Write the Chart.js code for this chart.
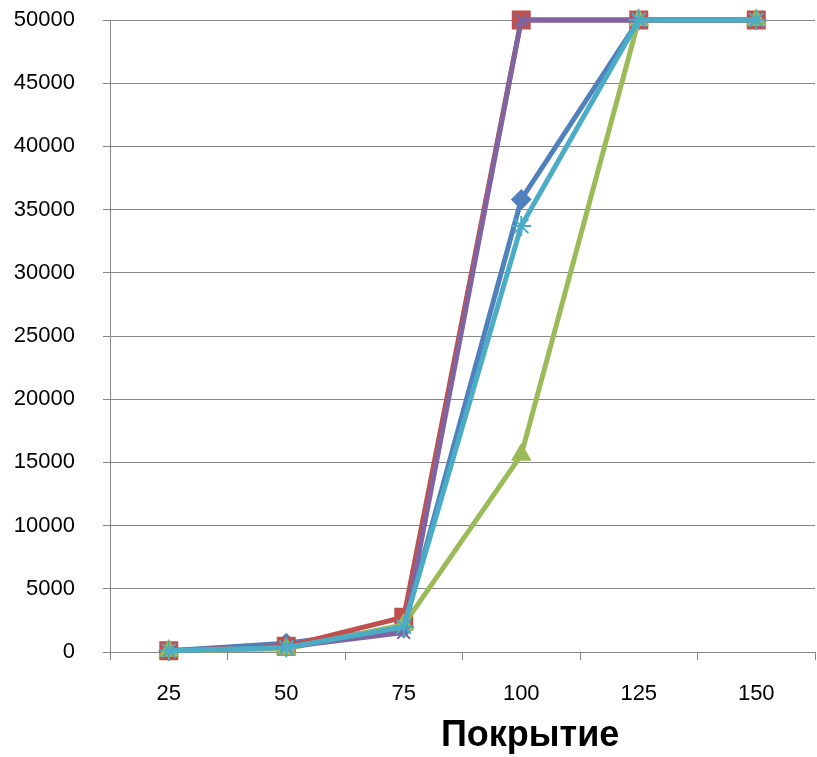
<!DOCTYPE html>
<html>
<head>
<meta charset="utf-8">
<script src="https://cdn.jsdelivr.net/npm/chart.js@4"></script>
<style>
  html, body { margin: 0; padding: 0; background: #fff; }
  #wrap { width: 817px; height: 757px; position: relative; }
</style>
</head>
<body>
<div id="wrap"><canvas id="chart" width="817" height="757"></canvas></div>
<script>
// ---------------------------------------------------------
// DATA
// ---------------------------------------------------------
const categories = ['25', '50', '75', '100', '125', '150'];
const seriesBlue   = [100, 700, 1900, 35800, 50000, 50000];
const seriesRed    = [100, 450, 2750, 50000, 50000, 50000];
const seriesGreen  = [100, 250, 2150, 15600, 50000, 50000];
const seriesPurple = [100, 400, 1550, 50000, 50000, 50000];
const seriesCyan   = [100, 350, 2000, 33700, 50000, 50000];
const axisTitle = 'Покрытие';

const gridColor = '#868686';

// order: lower number is drawn on top (cyan last, like the original)
function makeSet(data, color, style, radius, order) {
    return {
        data: data,
        order: order,
        borderColor: color,
        backgroundColor: color,
        pointBorderColor: color,
        pointBackgroundColor: color,
        pointStyle: style,
        pointRadius: radius,
        pointBorderWidth: 2,
        borderWidth: 5,
        tension: 0,
        clip: false
    };
}

// axis title drawn under the category labels
const axisTitlePlugin = {
    id: 'axisTitle',
    afterDraw(chart) {
        const x = chart.scales.x;
        const ctx = chart.ctx;
        ctx.save();
        ctx.font = 'bold 36px "Liberation Sans", Arial, sans-serif';
        ctx.fillStyle = '#000';
        ctx.textAlign = 'center';
        ctx.textBaseline = 'middle';
        ctx.fillText(axisTitle, x.left + x.width * 0.596, x.top + 84);
        ctx.restore();
    }
};

new Chart(document.getElementById('chart').getContext('2d'), {
    type: 'line',
    data: {
        labels: categories,
        datasets: [
            makeSet(seriesBlue, '#4F81BD', 'rectRot', 9, 5),
            makeSet(seriesRed, '#C0504D', 'rect', 12, 4),
            makeSet(seriesGreen, '#9BBB59', 'triangle', 10, 3),
            makeSet(seriesPurple, '#8064A2', 'crossRot', 9, 2),
            makeSet(seriesCyan, '#4BACC6', 'star', 10, 1)
        ]
    },
    options: {
        responsive: false,
        animation: false,
        layout: { autoPadding: false, padding: { top: 20, right: 2, left: 0, bottom: 0 } },
        plugins: { legend: { display: false }, tooltip: { enabled: false } },
        scales: {
            x: {
                offset: true,
                grid: { offset: true, drawOnChartArea: false, drawTicks: true, tickLength: 8, color: gridColor },
                border: { display: true, color: gridColor, width: 1 },
                ticks: { padding: 21, color: '#000', font: { family: '"Liberation Sans", Arial, sans-serif', size: 22 } },
                afterFit(scale) { scale.height = 105; }
            },
            y: {
                min: 0,
                max: 50000,
                ticks: {
                    stepSize: 5000, padding: 28, color: '#000',
                    font: { family: '"Liberation Sans", Arial, sans-serif', size: 22 },
                    callback: (v) => String(v)
                },
                grid: { color: gridColor, tickLength: 7 },
                border: { display: true, color: gridColor, width: 1 },
                afterFit(scale) {
                    scale.width = 110;
                    scale.paddingTop = 0;
                    scale.paddingBottom = 0;
                }
            }
        }
    },
    plugins: [axisTitlePlugin]
});
</script>
</body>
</html>
